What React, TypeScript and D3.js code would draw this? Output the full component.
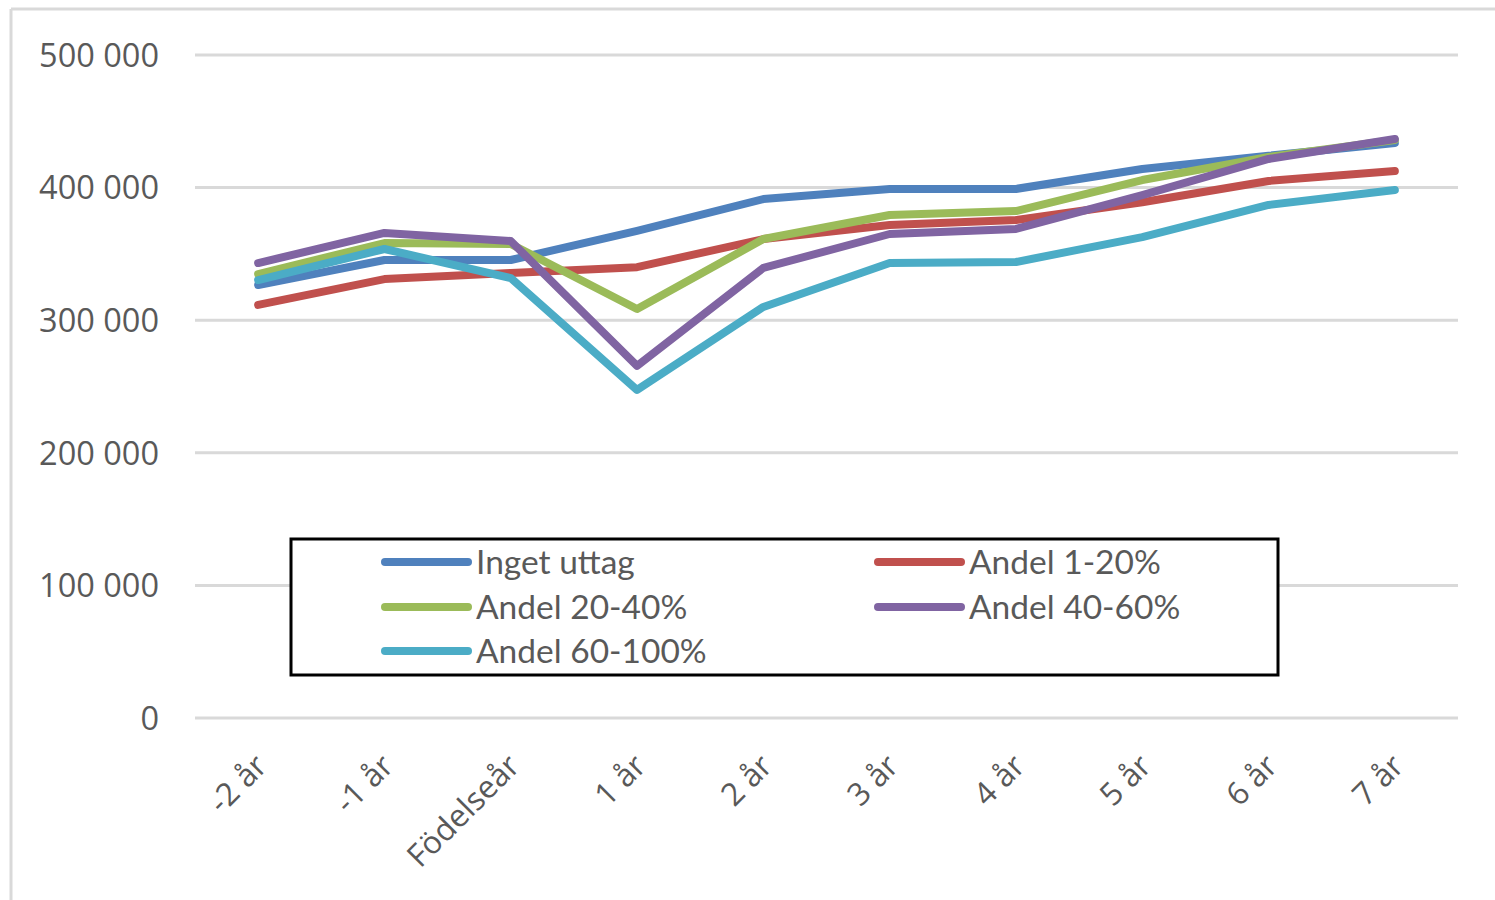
import React from "react";
import * as d3 from "d3";

const categories = ["-2 år", "-1 år", "Födelseår", "1 år", "2 år", "3 år", "4 år", "5 år", "6 år", "7 år"];
const seriesNames = ["Inget uttag", "Andel 1-20%", "Andel 20-40%", "Andel 40-60%", "Andel 60-100%"];
const ingetUttag = [326500, 345400, 345400, 367300, 391400, 399000, 399000, 414000, 424000, 433600];
const andel1_20 = [311500, 331000, 335600, 340000, 361200, 371800, 375600, 389000, 405000, 412500];
const andel20_40 = [334800, 358200, 357500, 308400, 361200, 379300, 382300, 405700, 423100, 435900];
const andel40_60 = [343100, 365800, 359700, 265500, 339400, 365000, 368800, 394400, 421600, 436700];
const andel60_100 = [330300, 353700, 331800, 247400, 310000, 343100, 343900, 362700, 386900, 398200];
const colors = ["#4F81BD", "#C0504D", "#9BBB59", "#8064A2", "#4BACC6"];
const yTicks = [0, 100000, 200000, 300000, 400000, 500000];

const seriesValues = [ingetUttag, andel1_20, andel20_40, andel40_60, andel60_100];

export default function App() {
  const W = 1495, H = 900;
  const left = 195, right = 1458, top = 55, bottom = 718;
  const x = d3.scaleBand<string>().domain(categories).range([left, right]);
  const y = d3.scaleLinear().domain([0, 500000]).range([bottom, top]);
  const cx = (c: string) => (x(c) as number) + x.bandwidth() / 2;
  const line = d3.line<number>().x((_, i) => cx(categories[i])).y((d) => y(d));
  const fmt = (v: number) => d3.format(",")(v).replace(/,/g, " ");
  const axisFont = "'Open Sans', 'DejaVu Sans', sans-serif";
  const legendFont = "Lato, 'Open Sans', sans-serif";

  const legendX = 291, legendY = 539, legendW = 987, legendH = 136;
  const colX = [385, 878];
  const rowY = [562, 607, 651];

  return (
    <svg width={W} height={H} style={{ position: "absolute", left: 0, top: 0, background: "#fff" }}>
      <rect x={0} y={0} width={W} height={H} fill="#fff" />
      <line x1={11} y1={9} x2={W} y2={9} stroke="#d9d9d9" strokeWidth={3} />
      <line x1={11} y1={9} x2={11} y2={H} stroke="#d9d9d9" strokeWidth={3} />
      {yTicks.map((t) => (
        <g key={t}>
          <line x1={left} x2={right} y1={y(t)} y2={y(t)} stroke="#d9d9d9" strokeWidth={3} />
          <text x={159} y={y(t)} dy="0.36em" textAnchor="end" fontFamily={axisFont} fontSize={32.5} fill="#595959">
            {fmt(t)}
          </text>
        </g>
      ))}
      {categories.map((c) => (
        <text
          key={c}
          transform={`translate(${cx(c) + 3},${760}) rotate(-45)`}
          textAnchor="end"
          dy="0.35em"
          fontFamily={axisFont}
          fontSize={31.5}
          fill="#595959"
        >
          {c}
        </text>
      ))}
      {seriesValues.map((vals, i) => (
        <path
          key={seriesNames[i]}
          d={line(vals) as string}
          fill="none"
          stroke={colors[i]}
          strokeWidth={8}
          strokeLinejoin="round"
          strokeLinecap="round"
        />
      ))}
      <rect x={legendX} y={legendY} width={legendW} height={legendH} fill="#fff" stroke="#000" strokeWidth={3} />
      {seriesNames.map((n, i) => {
        const lx = colX[i % 2];
        const ly = rowY[Math.floor(i / 2)];
        return (
          <g key={n}>
            <line x1={lx} x2={lx + 83} y1={ly} y2={ly} stroke={colors[i]} strokeWidth={8} strokeLinecap="round" />
            <text x={lx + 91} y={ly} dy="0.35em" fontFamily={legendFont} fontSize={33.5} fill="#595959">
              {n}
            </text>
          </g>
        );
      })}
    </svg>
  );
}
